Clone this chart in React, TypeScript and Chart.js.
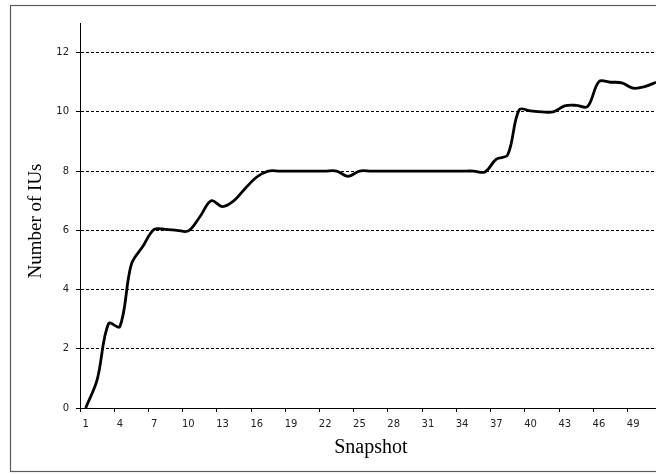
import React, { useEffect, useRef } from "react";
import { Chart, registerables } from "chart.js";

Chart.register(...registerables);

const snapshots: string[] = Array.from({ length: 51 }, (_, i) => String(i + 1));

const iuCounts: number[] = [
  0, 0.95, 2.85, 2.75, 4.85, 5.45, 6.03, 6.03, 6.0, 5.98,
  6.45, 7.0, 6.8, 7.0, 7.42, 7.8, 8.0, 8.0, 8.0, 8.0,
  8.0, 8.0, 8.0, 7.82, 8.0, 8.0, 8.0, 8.0, 8.0, 8.0,
  8.0, 8.0, 8.0, 8.0, 8.0, 7.97, 8.4, 8.55, 10.07, 10.03,
  10.0, 10.0, 10.2, 10.22, 10.18, 11.02, 11.0, 10.98, 10.8, 10.85,
  11.0,
];

const yTickValues: number[] = [0, 2, 4, 6, 8, 10, 12];

const xTitle = "Snapshot";
const yTitle = "Number of IUs";

const framePlugin = {
  id: "frameAndTitles",
  beforeDraw(chart: any) {
    const ctx = chart.ctx;
    ctx.save();
    ctx.fillStyle = "#ffffff";
    ctx.fillRect(0, 0, chart.width, chart.height);
    ctx.strokeStyle = "#5a5a5a";
    ctx.lineWidth = 1.2;
    ctx.strokeRect(10.5, 5.5, chart.width + 20, 466);
    ctx.restore();
  },
  afterDraw(chart: any) {
    const ctx = chart.ctx;
    const area = chart.chartArea;
    ctx.save();
    ctx.fillStyle = "#000000";
    ctx.textAlign = "center";
    ctx.textBaseline = "alphabetic";
    ctx.font = '20px "Liberation Serif", serif';
    ctx.fillText(xTitle, (area.left + area.right) / 2, 453);
    ctx.translate(41, 221);
    ctx.rotate(-Math.PI / 2);
    ctx.font = '19px "Liberation Serif", serif';
    ctx.fillText(yTitle, 0, 0);
    ctx.restore();
  },
};

export default function App() {
  const canvasRef = useRef<HTMLCanvasElement | null>(null);

  useEffect(() => {
    const canvas = canvasRef.current;
    if (!canvas) return;
    const tickFont = { family: '"DejaVu Sans", sans-serif', size: 10 };
    const chart = new Chart(canvas, {
      type: "line",
      data: {
        labels: snapshots,
        datasets: [
          {
            data: iuCounts,
            borderColor: "#000000",
            borderWidth: 2.8,
            pointRadius: 0,
            tension: 0.35,
            fill: false,
          },
        ],
      },
      plugins: [framePlugin],
      options: {
        responsive: false,
        animation: false,
        devicePixelRatio: 1,
        layout: { padding: { left: 0, top: 23, right: 0, bottom: 0 } },
        plugins: {
          legend: { display: false },
          tooltip: { enabled: false },
          title: { display: false },
        },
        scales: {
          x: {
            type: "category",
            offset: true,
            grid: {
              offset: true,
              drawOnChartArea: false,
              drawTicks: true,
              tickLength: 4,
              color: (c: any) => (c.index % 3 === 0 ? "#000000" : "rgba(0,0,0,0)"),
            },
            border: { display: true, color: "#000000", width: 1 },
            ticks: {
              autoSkip: false,
              maxRotation: 0,
              minRotation: 0,
              padding: 6,
              color: "#222222",
              font: tickFont,
              callback: (_v: any, i: number) => (i % 3 === 0 ? snapshots[i] : ""),
            },
            afterFit: (s: any) => {
              s.height = 66;
            },
          },
          y: {
            min: 0,
            max: 13,
            afterBuildTicks: (axis: any) => {
              axis.ticks = yTickValues.map((v) => ({ value: v }));
            },
            grid: {
              color: "#000000",
              lineWidth: 1,
              drawTicks: true,
              tickLength: 4,
            },
            border: { display: true, color: "#000000", width: 1, dash: [3, 2] },
            ticks: {
              padding: 7,
              color: "#222222",
              font: tickFont,
            },
            afterFit: (s: any) => {
              s.width = 80;
            },
          },
        },
      },
    } as any);
    return () => chart.destroy();
  }, []);

  return (
    <div
      style={{
        position: "fixed",
        left: 0,
        top: 0,
        width: 656,
        height: 474,
        overflow: "hidden",
        background: "#ffffff",
      }}
    >
      <canvas ref={canvasRef} width={662} height={474} style={{ display: "block" }} />
    </div>
  );
}
